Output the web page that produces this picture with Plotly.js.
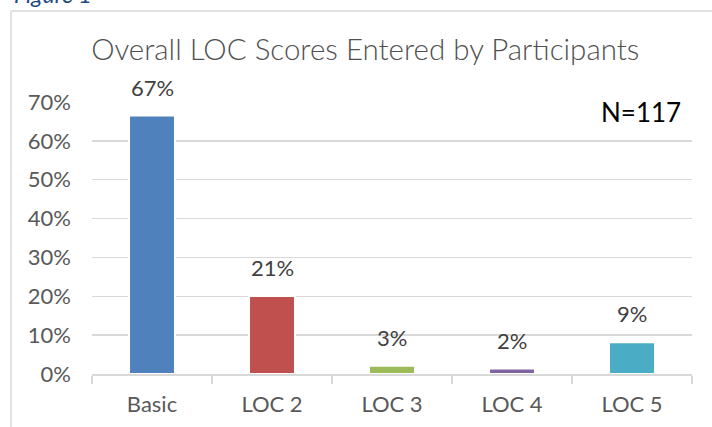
<!DOCTYPE html>
<html>
<head>
<meta charset="utf-8">
<script src="https://cdn.plot.ly/plotly-3.0.1.min.js"></script>
<style>
  html, body { margin: 0; padding: 0; background: #ffffff; }
  #chart { width: 712px; height: 427px; }
</style>
</head>
<body>
<div id="chart"></div>
<script>
// ---- data ----
const categories = ['Basic', 'LOC 2', 'LOC 3', 'LOC 4', 'LOC 5'];
const shares = [0.665, 0.201, 0.021, 0.014, 0.082];
const shareLabels = ['67%', '21%', '3%', '2%', '9%'];
const barColors = ['#4F81BD', '#C0504D', '#9BBB59', '#8064A2', '#4BACC6'];
const yTickValues = [0, 0.1, 0.2, 0.3, 0.4, 0.5, 0.6, 0.7];
const yTickLabels = ['0%', '10%', '20%', '30%', '40%', '50%', '60%', '70%'];
const chartTitle = 'Overall LOC Scores Entered by Participants';
const sampleNote = 'N=117';
const captionText = 'Figure 1';

const FONT = 'Lato, "Open Sans", "Noto Sans", sans-serif';

const trace = {
  type: 'bar',
  x: categories,
  y: shares,
  marker: { color: barColors, line: { color: '#ffffff', width: 2 } },
  hoverinfo: 'skip'
};

const labelAnnotations = categories.map((c, i) => ({
  x: c, y: shares[i], xref: 'x', yref: 'y',
  text: shareLabels[i], showarrow: false,
  yanchor: 'bottom', xanchor: 'center', yshift: 13,
  font: { family: FONT, size: 22, color: '#404040', weight: 400 }
}));

const layout = {
  width: 712, height: 427,
  margin: { l: 92, r: 20, t: 102, b: 53, pad: 0 },
  paper_bgcolor: '#ffffff',
  plot_bgcolor: '#ffffff',
  showlegend: false,
  bargap: 0.617,
  title: {
    text: chartTitle,
    xref: 'container', yref: 'container',
    x: 0.513, xanchor: 'center',
    y: 0.883, yanchor: 'middle',
    font: { family: FONT, size: 29.5, color: '#505050', weight: 300 }
  },
  xaxis: {
    type: 'category',
    showline: true, linecolor: '#D9D9D9', linewidth: 2,
    ticks: 'outside', tickson: 'boundaries', ticklen: 8, tickwidth: 1.5, tickcolor: '#D9D9D9',
    showgrid: false, zeroline: false,
    ticklabelstandoff: 10,
    tickfont: { family: FONT, size: 22, color: '#595959', weight: 400 },
    fixedrange: true
  },
  yaxis: {
    range: [0, 0.7],
    tickvals: yTickValues, ticktext: yTickLabels,
    showgrid: true, gridcolor: '#D9D9D9', gridwidth: 1.5,
    zeroline: false, showline: false, ticks: '',
    ticklabelstandoff: 20,
    tickfont: { family: FONT, size: 22, color: '#595959', weight: 400 },
    fixedrange: true
  },
  shapes: [
    { type: 'line', xref: 'paper', yref: 'paper', x0: -0.135, x1: -0.135, y0: 1.3346, y1: -0.25,
      line: { color: '#D9D9D9', width: 1.5 } },
    { type: 'line', xref: 'paper', yref: 'paper', x0: -0.135, x1: 1.06, y0: 1.3346, y1: 1.3346,
      line: { color: '#D9D9D9', width: 1.5 } }
  ],
  annotations: labelAnnotations.concat([
    { xref: 'paper', yref: 'paper', x: 0.985, y: 0.965, xanchor: 'right', yanchor: 'middle',
      text: sampleNote, showarrow: false,
      font: { family: FONT, size: 26, color: '#000000', weight: 400 } },
    { xref: 'paper', yref: 'paper', x: -0.1333, y: 1.338, xanchor: 'left', yanchor: 'bottom',
      text: '<i>' + captionText + '</i>', showarrow: false,
      font: { family: FONT, size: 23, color: '#1F497D' } }
  ])
};

Plotly.newPlot('chart', [trace], layout, { displayModeBar: false, staticPlot: true });
</script>
</body>
</html>
